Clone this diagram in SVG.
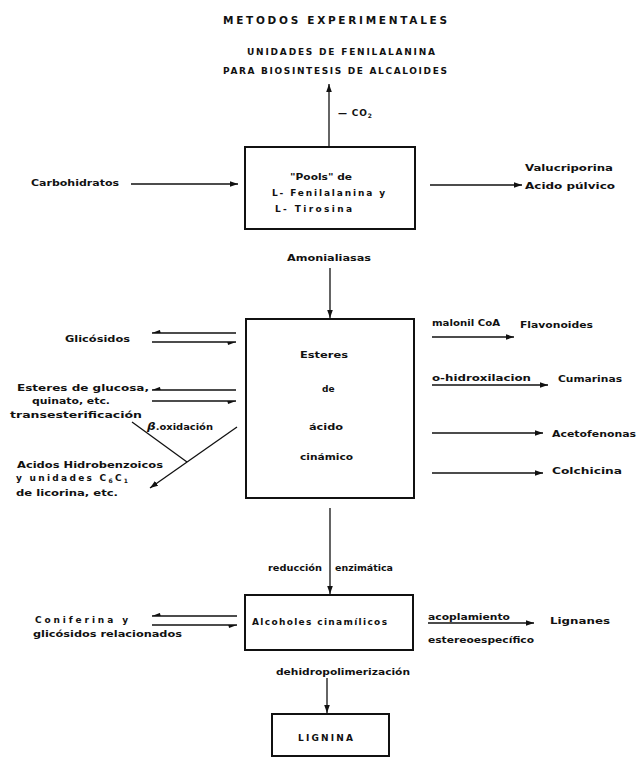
<svg xmlns="http://www.w3.org/2000/svg" width="639" height="758" viewBox="0 0 639 758">
<style>
text{font-family:"DejaVu Sans","Liberation Sans",Arial,sans-serif;font-weight:bold;font-size:9px;fill:#111}
.t{font-size:10.5px}
.box{fill:#fff;stroke:#111;stroke-width:2}
.ln{fill:none;stroke:#111;stroke-width:1.3}
.ar{marker-end:url(#ah)}
.hp{marker-end:url(#hp)}
</style>
<defs>
<marker id="ah" viewBox="0 -4 10 8" refX="10" refY="0" markerWidth="8" markerHeight="6.4" markerUnits="userSpaceOnUse" orient="auto">
<path d="M0,-3.5 L10,0 L0,3.5 Z" fill="#111"/>
</marker>
<marker id="hp" viewBox="0 -4 10 8" refX="10" refY="0" markerWidth="9" markerHeight="7" markerUnits="userSpaceOnUse" orient="auto">
<path d="M10,0 L0,0 L1,3.5 Z" fill="#111"/>
</marker>
</defs>
<rect width="639" height="758" fill="#fff"/>

<g id="title">
<text class="t" x="223" y="24" textLength="224" lengthAdjust="spacing">METODOS EXPERIMENTALES</text>
</g>
<g id="alcaloides">
<text x="247" y="55" font-size="8.5" textLength="188" lengthAdjust="spacing">UNIDADES DE FENILALANINA</text>
<text x="223" y="74" font-size="8.5" textLength="224" lengthAdjust="spacing">PARA BIOSINTESIS DE ALCALOIDES</text>
</g>
<g id="carbohidratos">
<text x="31" y="186" textLength="88" lengthAdjust="spacingAndGlyphs">Carbohidratos</text>
</g>
<g id="pools">
<rect class="box" x="245" y="147" width="170" height="82"/>
<text x="290" y="180" textLength="62" lengthAdjust="spacingAndGlyphs">"Pools" de</text>
<text x="272" y="196" textLength="113" lengthAdjust="spacing">L- Fenilalanina   y</text>
<text x="275" y="212" textLength="77" lengthAdjust="spacing">L- Tirosina</text>
</g>
<g id="valucriporina">
<text x="525" y="171" textLength="88" lengthAdjust="spacingAndGlyphs">Valucriporina</text>
<text x="525" y="189" textLength="90" lengthAdjust="spacingAndGlyphs">Acido púlvico</text>
</g>
<g id="glicosidos">
<text x="65" y="342" textLength="65" lengthAdjust="spacingAndGlyphs">Glicósidos</text>
</g>
<g id="esteres-glucosa">
<text x="17" y="391" textLength="132" lengthAdjust="spacingAndGlyphs">Esteres de glucosa,</text>
<text x="32" y="404" textLength="78" lengthAdjust="spacingAndGlyphs">quinato, etc.</text>
<text x="10" y="418" textLength="132" lengthAdjust="spacingAndGlyphs">transesterificación</text>
</g>
<g id="acidos-hidrobenzoicos">
<text x="17" y="468" textLength="146" lengthAdjust="spacingAndGlyphs">Acidos Hidrobenzoicos</text>
<text x="16" y="481" textLength="112" lengthAdjust="spacing">y unidades   C<tspan font-size="6" dy="2">6</tspan><tspan dy="-2">C</tspan><tspan font-size="6" dy="2">1</tspan></text>
<text x="16" y="496" textLength="102" lengthAdjust="spacingAndGlyphs">de licorina, etc.</text>
</g>
<g id="esteres-cinamico">
<rect class="box" x="246" y="319" width="168" height="179"/>
<text x="300" y="358" textLength="48" lengthAdjust="spacingAndGlyphs">Esteres</text>
<text x="322" y="392">de</text>
<text x="309" y="430" textLength="34" lengthAdjust="spacingAndGlyphs">ácido</text>
<text x="300" y="460" textLength="53" lengthAdjust="spacingAndGlyphs">cinámico</text>
</g>
<g id="flavonoides">
<text x="520" y="328" textLength="73" lengthAdjust="spacingAndGlyphs">Flavonoides</text>
</g>
<g id="cumarinas">
<text x="558" y="382" textLength="64" lengthAdjust="spacingAndGlyphs">Cumarinas</text>
</g>
<g id="acetofenonas">
<text x="552" y="437" textLength="84" lengthAdjust="spacingAndGlyphs">Acetofenonas</text>
</g>
<g id="colchicina">
<text x="552" y="474" textLength="70" lengthAdjust="spacingAndGlyphs">Colchicina</text>
</g>
<g id="coniferina">
<text x="35" y="623" textLength="93" lengthAdjust="spacing">Coniferina    y</text>
<text x="33" y="637" textLength="149" lengthAdjust="spacingAndGlyphs">glicósidos relacionados</text>
</g>
<g id="alcoholes">
<rect class="box" x="245" y="595" width="168" height="55"/>
<text x="252" y="625" textLength="135" lengthAdjust="spacing">Alcoholes   cinamílicos</text>
</g>
<g id="lignanes">
<text x="550" y="624" textLength="60" lengthAdjust="spacingAndGlyphs">Lignanes</text>
</g>
<g id="lignina">
<rect class="box" x="272" y="714" width="117" height="42"/>
<text x="298" y="741" textLength="55" lengthAdjust="spacing">LIGNINA</text>
</g>

<g id="connectors">
<line class="ln ar" x1="329" y1="147" x2="329" y2="84"/>
<text x="338" y="116" textLength="34" lengthAdjust="spacing">— CO<tspan font-size="6" dy="2">2</tspan></text>
<line class="ln ar" x1="131" y1="184" x2="238" y2="184"/>
<line class="ln ar" x1="430" y1="185" x2="522" y2="185"/>
<text x="287" y="261" textLength="84" lengthAdjust="spacingAndGlyphs">Amonialiasas</text>
<line class="ln ar" x1="330" y1="268" x2="330" y2="318"/>
<line class="ln hp" x1="236" y1="333" x2="152" y2="333"/>
<line class="ln hp" x1="152" y1="342" x2="236" y2="342"/>
<line class="ln hp" x1="236" y1="390" x2="152" y2="390"/>
<line class="ln hp" x1="152" y1="401" x2="236" y2="401"/>
<line class="ln" x1="132" y1="422" x2="187" y2="462"/>
<line class="ln ar" x1="237" y1="427" x2="150" y2="488"/>
<text x="147" y="430" textLength="66" lengthAdjust="spacingAndGlyphs"><tspan font-style="italic" font-size="11">β</tspan>.oxidación</text>
<text x="432" y="326" textLength="68" lengthAdjust="spacingAndGlyphs">malonil CoA</text>
<line class="ln ar" x1="432" y1="337" x2="514" y2="337"/>
<text x="432" y="381" textLength="99" lengthAdjust="spacingAndGlyphs">o-hidroxilacion</text>
<line class="ln ar" x1="432" y1="385" x2="548" y2="385"/>
<line class="ln ar" x1="432" y1="433" x2="543" y2="433"/>
<line class="ln ar" x1="432" y1="473" x2="543" y2="473"/>
<line class="ln ar" x1="330" y1="508" x2="330" y2="594"/>
<text x="268" y="571" textLength="54" lengthAdjust="spacingAndGlyphs">reducción</text>
<text x="335" y="571" textLength="58" lengthAdjust="spacingAndGlyphs">enzimática</text>
<line class="ln hp" x1="237" y1="616" x2="152" y2="616"/>
<line class="ln hp" x1="152" y1="625" x2="237" y2="625"/>
<text x="428" y="620" textLength="82" lengthAdjust="spacingAndGlyphs">acoplamiento</text>
<line class="ln ar" x1="428" y1="623" x2="534" y2="623"/>
<text x="428" y="643" textLength="106" lengthAdjust="spacingAndGlyphs">estereoespecífico</text>
<text x="276" y="675" textLength="134" lengthAdjust="spacingAndGlyphs">dehidropolimerización</text>
<line class="ln ar" x1="327" y1="678" x2="327" y2="713"/>
</g>
</svg>
